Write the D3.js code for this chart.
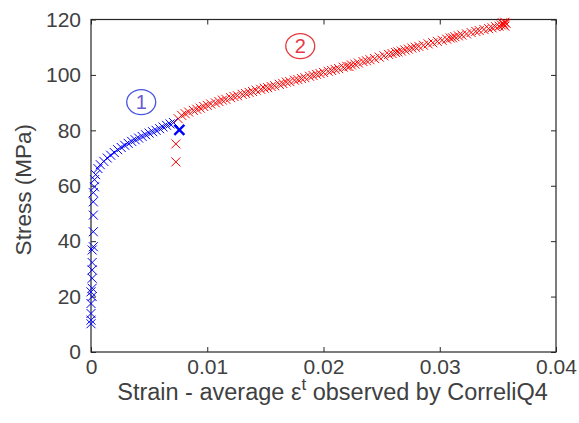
<!DOCTYPE html>
<html>
<head>
<meta charset="utf-8">
<script src="https://cdn.jsdelivr.net/npm/d3@7"></script>
<style>
  html, body { margin: 0; padding: 0; background: #fff; }
  svg { display: block; font-family: "Liberation Sans", Arial, sans-serif; }
</style>
</head>
<body>
<svg id="chart" width="579" height="423"></svg>
<script>
// ---------------- DATA ----------------
const xTicks = [0, 0.01, 0.02, 0.03, 0.04];
const xTickLabels = ["0", "0.01", "0.02", "0.03", "0.04"];
const yTicks = [0, 20, 40, 60, 80, 100, 120];
const yTickLabels = ["0", "20", "40", "60", "80", "100", "120"];

// Stage 1 (blue): strain, stress
const blueStrain = [0.0000,0.0000,0.0000,0.0000,0.0001,0.0000,0.0001,0.0001,0.0001,0.0001,0.0001,0.0002,0.0002,0.0002,0.0002,0.0002,0.0003,0.0003,0.0004,0.0006,0.0008,0.0011,0.0014,0.0017,0.0020,0.0023,0.0026,0.0029,0.0032,0.0035,0.0038,0.0041,0.0044,0.0047,0.0050,0.0053,0.0056,0.0059,0.0062,0.0065,0.0068,0.0071];
const blueStress = [10.2,11.5,13.9,17.5,20.0,21.7,23.0,26.6,29.6,32.3,36.8,38.0,43.4,49.4,54.2,57.5,59.6,62.2,64.0,66.2,67.6,68.8,70.0,71.0,72.0,73.0,73.8,74.6,75.3,76.0,76.6,77.2,77.8,78.4,79.0,79.5,80.0,80.6,81.2,81.8,82.3,82.8];
// last point of stage 1 (bold marker)
const blueEndStrain = [0.0076];
const blueEndStress = [80.2];

// Stage 2 (red): strain, stress
const redStrain = [0.0073,0.0073,0.0075,0.0078,0.0081,0.0084,0.0088,0.0091,0.0094,0.0097,0.0100,0.0103,0.0107,0.0110,0.0113,0.0116,0.0120,0.0123,0.0126,0.0130,0.0133,0.0136,0.0139,0.0142,0.0146,0.0149,0.0152,0.0155,0.0158,0.0162,0.0165,0.0168,0.0171,0.0175,0.0178,0.0181,0.0184,0.0188,0.0191,0.0194,0.0197,0.0200,0.0204,0.0207,0.0210,0.0213,0.0217,0.0220,0.0222,0.0224,0.0227,0.0230,0.0234,0.0237,0.0240,0.0244,0.0248,0.0252,0.0256,0.0259,0.0262,0.0264,0.0267,0.0270,0.0273,0.0276,0.0279,0.0282,0.0286,0.0290,0.0294,0.0298,0.0302,0.0306,0.0309,0.0311,0.0313,0.0316,0.0319,0.0323,0.0327,0.0331,0.0334,0.0338,0.0342,0.0345,0.0348,0.0351,0.0353,0.0355,0.0356,0.0357,0.0354,0.0356];
const redStress = [68.6,75.1,84.2,85.4,86.0,86.6,87.2,87.6,88.0,88.6,89.0,89.5,89.9,90.4,90.9,91.2,91.8,92.2,92.5,93.0,93.3,93.7,94.0,94.5,94.8,95.2,95.4,95.8,96.1,96.6,96.9,97.4,97.6,98.1,98.3,98.7,99.0,99.5,99.8,100.2,100.5,100.9,101.3,101.6,102.0,102.3,102.8,103.1,103.0,103.6,103.9,104.3,104.8,105.1,105.5,105.9,106.4,106.9,107.4,107.7,108.1,108.3,108.6,109.0,109.3,109.7,110.0,110.3,110.7,111.2,111.6,112.1,112.5,112.9,113.3,113.4,113.8,114.1,114.4,114.8,115.3,115.7,116.0,116.4,116.7,117.0,117.4,117.6,118.0,118.2,117.6,118.6,118.8,119.0];

// Stage annotations
const stageLabels = ["1", "2"];
const stageStrain = [0.00432, 0.0180];
const stageStress = [90.2, 110.4];

// ---------------- CHART ----------------
const svg = d3.select("#chart");
const margin = {left: 91, right: 23, top: 19.5, bottom: 71};
const W = 579, H = 423;
const x = d3.scaleLinear().domain([0, 0.04]).range([margin.left, W - margin.right]);
const y = d3.scaleLinear().domain([0, 120]).range([H - margin.bottom, margin.top]);

const axisColor = "#262626";
const textColor = "#404040";
const tickFont = 21;
const labelFont = 23.5;
const fam = "'Liberation Sans', Arial, sans-serif";

// frame
svg.append("rect")
  .attr("x", x(0)).attr("y", y(120))
  .attr("width", x(0.04) - x(0)).attr("height", y(0) - y(120))
  .attr("fill", "none").attr("stroke", axisColor).attr("stroke-width", 1.2);

const tickLen = 5;
// x axis (bottom, ticks inward)
const xAxis = d3.axisBottom(x).tickValues(xTicks).tickSizeInner(-tickLen).tickSizeOuter(0)
  .tickPadding(7).tickFormat((d, i) => xTickLabels[i]);
const gx = svg.append("g").attr("transform", `translate(0,${y(0)})`).call(xAxis);
gx.select(".domain").remove();
gx.selectAll("line").attr("stroke", axisColor);
gx.selectAll("text").attr("font-size", tickFont).attr("fill", textColor).attr("font-family", fam);

// x axis top ticks
const gxt = svg.append("g").attr("transform", `translate(0,${y(120)})`)
  .call(d3.axisTop(x).tickValues(xTicks).tickSizeInner(-tickLen).tickSizeOuter(0).tickFormat(""));
gxt.select(".domain").remove();
gxt.selectAll("line").attr("stroke", axisColor);

// y axis (left)
const yAxis = d3.axisLeft(y).tickValues(yTicks).tickSizeInner(-tickLen).tickSizeOuter(0)
  .tickPadding(10).tickFormat((d, i) => yTickLabels[i]);
const gy = svg.append("g").attr("transform", `translate(${x(0)},0)`).call(yAxis);
gy.select(".domain").remove();
gy.selectAll("line").attr("stroke", axisColor);
gy.selectAll("text").attr("font-size", tickFont).attr("fill", textColor).attr("font-family", fam);

// y axis right ticks
const gyr = svg.append("g").attr("transform", `translate(${x(0.04)},0)`)
  .call(d3.axisRight(y).tickValues(yTicks).tickSizeInner(-tickLen).tickSizeOuter(0).tickFormat(""));
gyr.select(".domain").remove();
gyr.selectAll("line").attr("stroke", axisColor);

// axis labels
const xl = svg.append("text")
  .attr("x", (x(0) + x(0.04)) / 2 + 9).attr("y", 400)
  .attr("text-anchor", "middle").attr("font-size", labelFont).attr("fill", textColor).attr("font-family", fam);
xl.append("tspan").text("Strain - average \u03B5");
xl.append("tspan").attr("dy", -10).attr("font-size", 17).text("t");
xl.append("tspan").attr("dy", 10).text(" observed by CorreliQ4");

svg.append("text")
  .attr("transform", `translate(31,${(y(0) + y(120)) / 2 + 4}) rotate(-90)`)
  .attr("text-anchor", "middle").attr("font-size", 22.5).attr("fill", textColor).attr("font-family", fam)
  .text("Stress (MPa)");

// markers
function xMark(g, cx, cy, r, color, sw) {
  g.append("path")
    .attr("d", `M${cx - r},${cy - r}L${cx + r},${cy + r}M${cx - r},${cy + r}L${cx + r},${cy - r}`)
    .attr("stroke", color).attr("stroke-width", sw).attr("fill", "none");
}
const gm = svg.append("g");
redStrain.forEach((s, i) => xMark(gm, x(s), y(redStress[i]), 4.5, "#ff0000", 1));
blueStrain.forEach((s, i) => xMark(gm, x(s), y(blueStress[i]), 4.5, "#0000ff", 1));
blueEndStrain.forEach((s, i) => xMark(gm, x(s), y(blueEndStress[i]), 5, "#0000ff", 2.4));

// stage annotations
const stageColors = ["#4a55e0", "#e8383c"];
const stageTextColors = ["#6a58d8", "#e8384c"];
stageLabels.forEach((lab, i) => {
  const cx = x(stageStrain[i]), cy = y(stageStress[i]);
  svg.append("ellipse").attr("cx", cx).attr("cy", cy).attr("rx", 14.5).attr("ry", 12.5)
    .attr("fill", "none").attr("stroke", stageColors[i]).attr("stroke-width", 1.3);
  svg.append("text").attr("x", cx).attr("y", cy).attr("dy", "0.36em")
    .attr("text-anchor", "middle").attr("font-size", 20).attr("fill", stageTextColors[i]).attr("font-family", fam).text(lab);
});
</script>
</body>
</html>
